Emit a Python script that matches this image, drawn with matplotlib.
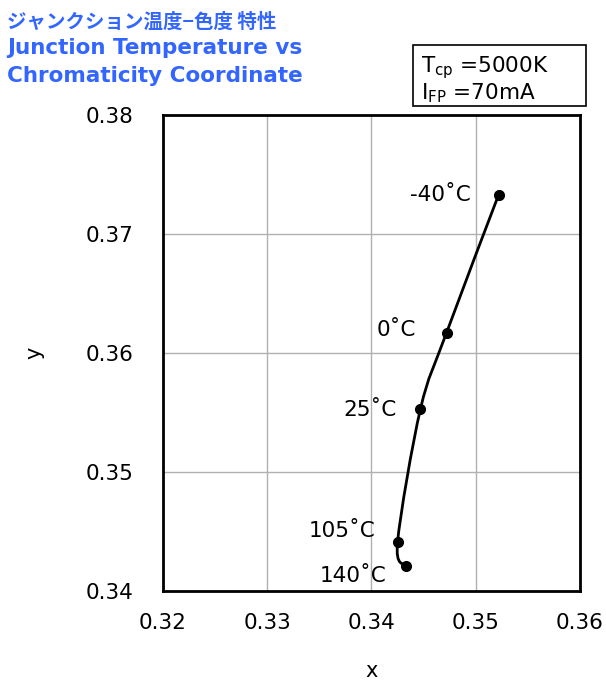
import numpy as np
import matplotlib
import matplotlib.pyplot as plt
from matplotlib.path import Path
from matplotlib.patches import PathPatch, Rectangle

matplotlib.rcParams['font.family'] = ['DejaVu Sans', 'Noto Sans CJK JP']

temps = ["-40˚C", "0˚C", "25˚C", "105˚C", "140˚C"]
x_vals = [0.3522, 0.3472, 0.3447, 0.3425, 0.3433]
y_vals = [0.3733, 0.3617, 0.3553, 0.3441, 0.3421]

xticks = [0.32, 0.33, 0.34, 0.35, 0.36]
yticks = [0.34, 0.35, 0.36, 0.37, 0.38]

title_color = "#3366ff"


def smooth_path(xs, ys, k=1.0 / 6):
    # excel-style smoothed line as cubic bezier segments through the points
    pts = np.column_stack([xs, ys])
    n = len(pts)
    verts = [pts[0]]
    codes = [Path.MOVETO]
    for i in range(n - 1):
        p0 = pts[i - 1] if i > 0 else pts[i]
        p1 = pts[i]
        p2 = pts[i + 1]
        p3 = pts[i + 2] if i + 2 < n else pts[i + 1]
        c1 = p1 + (p2 - p0) * k
        c2 = p2 - (p3 - p1) * k
        verts += [c1, c2, p2]
        codes += [Path.CURVE4] * 3
    return Path(verts, codes)


fig = plt.figure(figsize=(6.06, 6.82), dpi=100)
ax = fig.add_axes([0.269, 0.1334, 0.688, 0.698])

ax.set_xlim(0.32, 0.36)
ax.set_ylim(0.34, 0.38)
ax.set_xticks(xticks)
ax.set_yticks(yticks)
ax.set_xticklabels(["%.2f" % v for v in xticks])
ax.set_yticklabels(["%.2f" % v for v in yticks])
ax.tick_params(axis="both", labelsize=15.5, length=0)
ax.tick_params(axis="x", pad=16)
ax.tick_params(axis="y", pad=21)
ax.grid(True, color="#b0b0b0", linewidth=1.0)
ax.set_axisbelow(True)
for s in ax.spines.values():
    s.set_linewidth(2)
    s.set_color("k")

ax.set_xlabel("x", fontsize=15, labelpad=20)
ax.set_ylabel("y", fontsize=15, labelpad=30)

path = smooth_path(x_vals, y_vals)
ax.add_patch(PathPatch(path, facecolor="none", edgecolor="k", linewidth=2, zorder=3))
ax.plot(x_vals, y_vals, linestyle="none", marker="o", color="k", markersize=7, zorder=4)

offsets = [(-20, 0), (-22, 2), (-17, -1), (-16, 8), (-14, -7)]
for t, xv, yv, off in zip(temps, x_vals, y_vals, offsets):
    ax.annotate(t, (xv, yv), xytext=off, textcoords="offset points",
                ha="right", va="center", fontsize=15.5)

fig.text(0.012, 0.968, "ジャンクション温度−色度 特性", color=title_color,
         fontsize=14, fontweight="bold", va="center",
         family=["Noto Sans CJK JP", "DejaVu Sans"])
fig.text(0.012, 0.930, "Junction Temperature vs", color=title_color,
         fontsize=15.5, fontweight="bold", va="center")
fig.text(0.012, 0.889, "Chromaticity Coordinate", color=title_color,
         fontsize=15.5, fontweight="bold", va="center")

fig.add_artist(Rectangle((413 / 606, 1 - 106 / 682), 173 / 606, 61 / 682,
                         transform=fig.transFigure, facecolor="white",
                         edgecolor="k", linewidth=1.2))
fig.text(0.695, 0.901, r"T$_{\mathrm{cp}}$ =5000K", fontsize=15.5, va="center")
fig.text(0.695, 0.864, r"I$_{\mathrm{FP}}$ =70mA", fontsize=15.5, va="center")

fig.savefig("out.png", dpi=100)
